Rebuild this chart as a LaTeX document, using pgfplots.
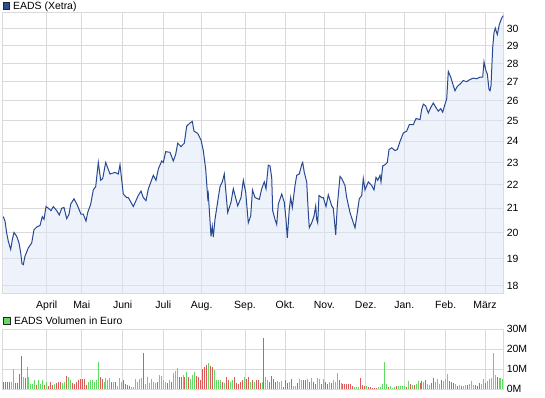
\documentclass[border=0pt]{standalone}
\usepackage{pgfplots}
\usepackage{pgfplotstable}
\pgfplotsset{compat=1.18}
\usepackage{fontspec}
\setmainfont{Liberation Sans}
\definecolor{gridc}{RGB}{218,218,218}
\definecolor{linec}{RGB}{40,72,146}
\definecolor{fillc}{RGB}{221,229,245}
\definecolor{vgreen}{RGB}{96,218,96}
\definecolor{vred}{RGB}{216,90,90}
\definecolor{legblue}{RGB}{45,78,148}

\pgfplotstableread{
x p
3.3 20.65
5 20.47
6.7 19.99
8.3 19.67
10.7 19.35
12.3 19.73
14 20.01
16.7 19.86
19 19.6
20.7 19.22
22 18.81
23.3 18.77
25 19.09
28.3 19.41
31.7 19.6
34 20.12
36.7 20.23
40 20.29
42.3 20.65
44 20.54
46 21.07
48.3 21.0
51 20.9
53.3 21.07
56.7 20.9
59.3 20.72
61.7 21.0
64 21.03
66.7 20.57
69 20.75
70.7 21.17
74 21.4
77.3 21.13
81 20.75
83.3 20.75
86 20.47
87.7 20.82
90.7 21.17
93.3 21.78
95.7 21.92
98.3 23.0
100.7 22.2
102.7 22.28
105.7 23.0
110 22.48
115 22.55
118.3 22.48
120 22.9
123.3 21.6
126.7 21.45
128.3 21.45
133.3 21.07
138.3 21.54
141 21.73
143.3 21.45
146 21.32
148.3 21.82
153.3 22.42
156 22.2
158.3 22.7
161.7 23.07
163.3 23.0
165.7 23.5
170 23.47
173.3 23.07
175.7 23.38
177.7 23.9
181 23.74
184.3 23.9
186.7 24.72
190 24.88
192.3 24.96
194 24.48
197.7 24.37
201 24.05
203.3 23.55
205.7 22.7
207.7 21.45
208.3 21.6
211 19.86
212.3 20.26
213.3 19.83
215 20.54
218.3 21.45
220 21.92
222.3 22.13
224.3 22.48
227.7 20.82
231 21.25
233.3 21.83
237.7 21.1
241 21.45
243.3 22.2
245.7 21.68
248.3 20.4
250.7 20.68
252.5 21.78
255 21.45
259.3 21.37
261.7 21.83
264.3 22.13
266 21.83
268.3 22.88
270 22.84
271.7 22.33
272.7 20.9
275 20.54
276.7 20.33
278.3 21.17
281.7 21.6
284.3 21.25
286 20.54
287.3 19.8
289.3 20.96
290.7 21.45
292.3 21.03
295 21.97
296.7 22.42
299.3 22.48
301.7 22.9
302.7 23.0
304.3 22.55
306.7 22.13
308.3 20.82
309.3 20.2
311.7 20.4
314 20.68
315.7 21.1
316.7 20.54
317.7 20.4
319 21.54
321.7 21.45
323.3 21.45
326 21.07
328.3 21.57
331.7 21.1
333.3 21.0
335.7 19.92
337.3 21.1
340 22.37
341.7 22.28
345 21.97
346.7 21.45
350 20.82
353.3 20.4
355 20.2
357.3 20.82
359.3 21.4
361.7 21.54
363.3 22.28
365 21.78
368.3 22.13
370 22.05
371.7 21.97
374 21.78
376 22.33
377.7 22.2
380 22.42
381 22.13
382.7 22.84
385 22.9
387.3 23.0
389 23.6
391.7 23.68
395 23.55
397.3 23.6
400 23.98
403.3 24.39
406.7 24.48
409.3 24.8
413.3 24.8
416 25.1
420 25.05
421.7 25.56
423.3 25.83
425.7 25.74
428.3 25.38
430.7 25.65
433.3 25.89
436 25.65
438.3 25.47
440.7 25.6
442.7 25.42
445 25.83
446.7 26.1
448.3 27.57
450.7 27.26
453.3 26.8
455 26.53
457.3 26.76
460 26.88
463.3 27.07
466.7 27.01
470 27.13
473.3 27.2
476.7 27.17
480 27.26
482.7 27.26
484 28.1
486 27.6
487.3 27.43
489 26.6
490 26.53
491 26.8
492.7 28.92
494 29.77
495.3 30.05
497.3 29.66
499.3 30.26
501.7 30.66
503.3 30.8
}\price

\pgfplotstableread{
i v
5 3.8
6 10.2
11 6.3
13 11.0
14 6.0
15 2.5
16 2.7
17 4.7
19 4.7
20 2.5
21 4.7
23 3.8
27 2.7
31 3.0
32 3.8
34 6.0
35 4.7
44 3.8
45 4.7
46 4.7
47 3.8
48 4.7
49 13.7
52 3.8
53 5.8
54 4.7
55 5.5
57 3.8
59 1.5
60 5.8
61 3.8
66 1.3
67 1.0
68 5.2
69 3.8
70 5.0
71 5.5
73 2.5
74 6.3
75 3.0
76 5.0
77 3.8
78 3.0
80 7.2
81 6.7
82 4.7
83 3.8
85 4.7
87 8.3
88 9.3
89 10.5
92 7.2
94 8.8
96 5.0
97 7.2
98 8.8
105 13.0
108 9.7
109 4.7
110 4.7
111 4.7
113 3.3
116 3.8
117 4.7
123 6.0
126 3.8
128 3.8
132 3.8
134 6.0
135 4.7
140 4.3
141 3.8
142 4.3
146 3.5
148 1.7
149 1.7
151 5.2
152 4.7
155 5.0
157 5.8
160 5.8
161 5.0
163 5.3
166 3.8
168 4.7
169 3.8
170 8.0
172 3.0
179 1.3
180 1.3
181 1.3
185 1.7
191 1.0
192 1.3
193 2.7
194 13.7
195 2.5
197 1.8
198 0.8
199 1.3
201 1.7
202 1.7
203 1.8
204 1.8
206 4.3
208 2.2
210 2.7
211 4.3
214 3.8
216 2.7
217 2.2
220 3.5
221 5.0
222 2.7
224 4.2
225 5.0
226 7.7
230 2.7
232 2.2
234 1.7
235 2.2
237 2.7
238 4.2
239 2.2
243 2.7
244 5.3
246 4.3
247 5.2
248 5.8
249 18.3
250 7.2
252 5.5
253 5.5
254 5.2
}\volgreen

\pgfplotstableread{
i v
1 3.8
2 3.8
3 3.8
4 3.8
7 3.0
8 3.3
9 7.7
10 16.7
12 5.5
18 2.2
22 2.2
24 1.7
25 3.8
26 2.2
28 3.0
29 3.8
30 3.5
33 6.7
36 3.0
37 2.7
38 3.8
39 4.7
40 5.0
41 5.0
42 5.0
43 2.2
50 6.3
51 5.2
56 3.8
58 3.8
62 4.7
63 2.5
64 2.2
65 1.7
72 18.0
79 3.8
84 3.0
86 3.8
90 6.3
91 6.0
93 6.3
95 6.3
99 6.7
100 6.3
101 4.7
102 10.0
103 11.0
104 12.0
106 11.7
107 11.0
112 3.8
114 6.0
115 4.7
118 6.3
119 3.0
120 2.7
121 3.8
122 4.7
124 5.0
125 6.0
127 4.7
129 4.7
130 4.7
131 3.0
133 25.5
136 3.8
137 6.7
138 5.0
139 3.8
143 1.3
144 4.7
145 3.0
147 5.2
150 3.0
153 4.7
154 4.7
156 3.8
158 3.8
159 2.5
162 2.5
164 3.8
165 2.5
167 3.0
171 4.7
173 2.7
174 2.7
175 2.7
176 2.7
177 2.5
178 1.7
182 5.5
183 2.2
184 1.7
186 1.0
187 1.0
188 0.7
189 0.8
190 0.7
196 1.3
200 1.8
205 1.0
207 2.7
209 2.2
212 3.3
213 4.2
215 4.7
218 3.0
219 5.7
223 4.7
227 4.2
228 3.8
229 3.3
231 1.7
233 1.7
236 2.2
240 2.2
241 1.7
242 3.0
245 3.3
251 6.0
}\volred

\begin{document}
\begin{tikzpicture}
\path[use as bounding box] (0bp,0bp) rectangle (545bp,398bp);
% price panel (logarithmic price scale, drawn as ln of the price)
\begin{axis}[at={(2.7bp,104.7bp)}, anchor=south west,
  scale only axis,
  width=500.6bp, height=280.4bp,
  xmin=2.7, xmax=503.3,
  ymin=2.87526, ymax=3.43302,
  ytick={2.89037,2.94444,2.99573,3.04452,3.09104,3.13549,3.17805,3.21888,3.25810,3.29584,3.33220,3.36730,3.40120},
  yticklabels={18,19,20,21,22,23,24,25,26,27,28,29,30},
  xtick={46.7,81.7,122.7,163.3,201.7,245,285.3,324.3,365.7,404.3,445.7,485},
  xticklabels={April,Mai,Juni,Juli,Aug.,Sep.,Okt.,Nov.,Dez.,Jan.,Feb.,März},
  major tick length=0pt,
  grid=major,
  major grid style={draw=gridc, line width=1bp},
  axis line style={draw=gridc, line width=1bp},
  ticklabel style={font=\fontsize{10.5}{12}\selectfont, text=black},
  yticklabel pos=right,
  xticklabel style={yshift=-4bp},
]
\addplot[draw=none, fill=fillc, fill opacity=0.5] table[x=x, y expr={ln(\thisrow{p})}] {\price} \closedcycle;
\addplot[linec, line width=1bp, mark=none] table[x=x, y expr={ln(\thisrow{p})}] {\price};
\end{axis}
% volume panel (trading-day index i placed on whole pixel columns)
\begin{axis}[at={(2.7bp,8.7bp)}, anchor=south west,
  scale only axis,
  width=500.6bp, height=60bp,
  xmin=2.7, xmax=503.3,
  ymin=0, ymax=30,
  ytick={0,10,20,30},
  yticklabels={0M,10M,20M,30M},
  xtick={46.7,81.7,122.7,163.3,201.7,245,285.3,324.3,365.7,404.3,445.7,485},
  xticklabels={},
  major tick length=0pt,
  grid=major,
  major grid style={draw=gridc, line width=1bp},
  axis line style={draw=gridc, line width=1bp},
  ticklabel style={font=\fontsize{10.5}{12}\selectfont, text=black},
  yticklabel pos=right,
]
\addplot[ycomb, draw=vgreen, line width=1bp, mark=none] table[x expr={floor(3.3+(\thisrow{i}-1)*1.975)+0.5}, y=v] {\volgreen};
\addplot[ycomb, draw=vred, line width=1bp, mark=none] table[x expr={floor(3.3+(\thisrow{i}-1)*1.975)+0.5}, y=v] {\volred};
\end{axis}
% legends
\fill[legblue, draw=black!85, line width=0.8bp] (2.9bp,388.9bp) rectangle (9.3bp,395.3bp);
\node[anchor=west, inner sep=0pt, font=\fontsize{10.5}{12}\selectfont] at (13bp,391.2bp) {EADS (Xetra)};
\fill[vgreen, draw=black!85, line width=0.8bp] (3.4bp,73.8bp) rectangle (9.9bp,80.3bp);
\node[anchor=west, inner sep=0pt, font=\fontsize{10.5}{12}\selectfont] at (14bp,77bp) {EADS Volumen in Euro};
\end{tikzpicture}
\end{document}
